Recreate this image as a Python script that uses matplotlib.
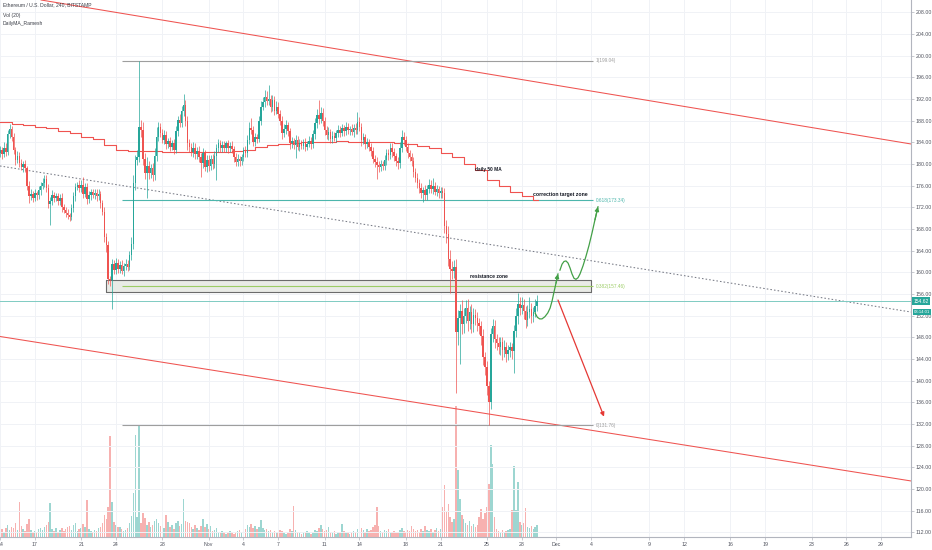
import numpy as np
import pandas as pd
import matplotlib
matplotlib.use('Agg')
import matplotlib.pyplot as plt
import matplotlib.dates as mdates
import matplotlib.transforms as mtransforms

# ---- dados (candles de 4h, ETH/USD Bitstamp) ----
inicio = '2019-10-14 00:00'
primeira_abertura = 182.0

fechamentos = [
    182.5, 181.8, 183.0, 182.2, 185.5, 186.5,
    185.0, 182.5, 180.8, 181.5, 180.2, 179.5,
    180.0, 179.2, 176.0, 174.0, 174.5, 173.8,
    174.6, 174.2, 175.2, 176.0, 176.5, 177.3,
    175.5, 172.7, 173.2, 174.3, 173.8, 174.0,
    173.2, 173.8, 172.1, 171.5, 171.0, 170.5,
    170.3, 171.8, 174.0, 175.8, 176.1, 175.6,
    176.2, 174.5, 175.8, 173.5, 174.2, 174.8,
    174.3, 174.7, 174.0, 174.5, 172.8, 171.2,
    166.6, 165.0, 158.8, 158.6, 161.5, 160.5,
    161.8, 160.6, 161.4, 160.2, 161.2, 161.6,
    161.0, 163.2, 165.3, 176.4, 180.7, 181.3,
    186.9, 186.3, 181.0, 178.3, 179.6, 178.4,
    179.2, 177.9, 181.5, 185.0, 186.9, 185.7,
    184.5, 185.3, 183.6, 184.2, 183.2, 183.8,
    182.6, 186.0, 188.1, 187.6, 189.8, 190.9,
    188.0, 183.8, 183.2, 182.2, 183.0, 181.8,
    182.4, 181.3, 180.2, 182.0, 179.5, 180.8,
    179.6, 181.0, 180.0, 181.5, 183.0, 183.8,
    182.9, 183.5, 183.0, 183.8, 182.9, 183.4,
    182.8, 181.3, 180.4, 181.0, 180.6, 181.2,
    182.6, 182.0, 184.5, 186.6, 186.3, 184.1,
    185.0, 184.6, 188.0, 190.6, 191.5, 192.4,
    191.6, 192.0, 190.5, 191.8, 189.8, 190.6,
    189.3, 188.0, 185.7, 186.5, 187.2, 186.0,
    183.8, 184.2, 183.5, 184.4, 183.2, 183.9,
    183.4, 184.0, 183.2, 183.7, 184.3, 183.6,
    185.5, 187.5, 189.0, 188.3, 189.5, 188.0,
    186.3, 185.4, 185.9, 184.6, 185.2, 184.8,
    185.7, 186.3, 185.8, 186.6, 186.0, 186.9,
    186.2, 186.5, 185.9, 186.7, 186.3, 187.8,
    186.9, 184.4, 184.9, 183.6, 184.0, 183.2,
    182.4, 181.0, 180.4, 179.8, 179.5, 180.0,
    179.6, 180.8, 182.0, 181.6, 183.0, 182.2,
    181.4, 180.5, 180.1, 183.0, 185.0, 184.4,
    183.2, 182.0, 181.2, 180.6, 178.5, 177.4,
    176.5, 175.6, 174.6, 175.2, 174.2, 175.4,
    176.2, 175.4, 176.0, 174.9, 175.3, 174.6,
    175.0, 174.6, 168.5, 167.0, 162.5, 160.6,
    160.2, 161.0, 149.0, 151.5, 152.8, 150.4,
    152.0, 153.5, 151.0, 152.6, 150.5, 152.2,
    151.5, 150.6, 150.0, 148.2, 144.3, 142.5,
    139.0, 136.0, 148.6, 150.0, 147.6, 147.0,
    146.2, 147.1, 145.6, 146.3, 145.0, 145.6,
    146.2, 145.4, 149.2, 152.0, 154.2, 153.4,
    154.0, 152.8, 151.2, 152.6, 153.2, 152.0,
    152.6, 153.8, 154.62,
]

# pavio superior / inferior (em USD, a partir do corpo)
pavio_sup = [
    0.8, 0.6, 1.0, 0.9, 0.7, 0.9,
    0.5, 0.8, 0.6, 0.9, 0.7, 0.8,
    0.6, 0.7, 0.5, 0.8, 0.9, 0.6,
    0.7, 0.5, 0.8, 0.6, 0.9, 0.7,
    0.6, 0.8, 0.7, 0.9, 0.5, 0.6,
    0.7, 0.6, 0.8, 0.5, 0.6, 0.7,
    0.5, 0.9, 0.8, 0.7, 0.6, 0.9,
    0.8, 1.4, 0.6, 0.7, 0.8, 0.6,
    0.5, 0.7, 0.6, 0.8, 0.5, 0.6,
    0.9, 0.7, 0.8, 0.6, 1.0, 0.7,
    0.8, 0.6, 0.7, 0.9, 0.6, 0.8,
    0.7, 0.8, 1.2, 1.5, 1.0, 1.3,
    12.14, 1.2, 1.5, 1.0, 1.6, 0.9,
    0.8, 1.0, 1.4, 1.8, 0.9, 0.7,
    0.8, 0.9, 0.7, 0.6, 0.8, 0.7,
    0.9, 1.0, 0.8, 1.1, 0.9, 2.1,
    1.0, 0.9, 0.8, 0.7, 1.0, 0.8,
    0.7, 0.9, 0.8, 1.0, 0.6, 0.8,
    0.9, 0.7, 0.8, 0.9, 0.7, 0.8,
    0.6, 0.7, 0.8, 0.5, 0.7, 0.6,
    0.8, 0.6, 0.7, 0.8, 0.5, 0.7,
    0.6, 0.8, 0.9, 1.2, 1.9, 0.7,
    0.8, 0.6, 0.9, 1.0, 0.8, 1.2,
    1.1, 2.6, 0.8, 0.9, 0.7, 1.0,
    0.8, 0.7, 0.9, 0.8, 1.0, 0.6,
    0.7, 0.8, 0.6, 0.9, 0.7, 0.8,
    0.6, 0.7, 0.8, 0.6, 0.9, 0.7,
    0.8, 1.0, 1.2, 2.8, 1.0, 0.9,
    0.7, 0.8, 0.9, 0.6, 0.8, 0.7,
    0.6, 0.9, 0.7, 0.8, 0.6, 0.8,
    0.7, 0.6, 0.8, 0.7, 0.9, 1.8,
    0.8, 0.6, 0.9, 0.7, 0.8, 0.6,
    0.7, 0.8, 0.6, 0.9, 0.7, 0.8,
    0.6, 0.9, 0.8, 0.7, 0.9, 0.8,
    0.7, 0.6, 0.8, 1.0, 1.3, 0.9,
    0.8, 0.7, 0.6, 0.9, 0.7, 0.8,
    0.9, 0.7, 0.8, 0.6, 0.9, 0.8,
    1.0, 0.8, 1.4, 0.7, 0.9, 0.6,
    0.7, 0.8, 1.0, 1.2, 1.5, 1.7,
    1.4, 1.2, 1.5, 1.6, 1.4, 2.0,
    1.5, 1.4, 1.6, 1.2, 1.5, 1.3,
    1.0, 1.2, 0.9, 1.1, 1.3, 1.0,
    1.2, 1.0, 1.1, 1.3, 1.2, 1.0,
    1.1, 0.9, 1.0, 1.2, 0.8, 0.9,
    1.0, 0.8, 1.1, 1.5, 1.9, 1.2,
    1.4, 1.0, 0.9, 1.3, 2.3, 1.2,
    1.0, 1.3, 1.2,
]

pavio_inf = [
    0.7, 0.9, 0.6, 0.8, 0.6, 0.7,
    0.8, 0.7, 0.9, 0.6, 0.8, 0.7,
    0.9, 0.6, 0.8, 1.2, 0.7, 0.8,
    0.6, 0.8, 0.7, 0.9, 0.6, 0.8,
    0.7, 0.9, 4.0, 0.7, 0.8, 0.6,
    0.8, 0.7, 0.9, 0.6, 0.8, 0.7,
    0.9, 0.6, 0.7, 0.8, 0.6, 0.7,
    0.7, 0.8, 0.6, 0.9, 0.7, 0.8,
    0.6, 0.7, 0.8, 0.6, 0.9, 0.7,
    1.0, 1.2, 0.9, 1.1, 5.3, 0.8,
    0.9, 0.7, 0.8, 0.6, 0.8, 0.7,
    0.8, 0.6, 0.9, 1.0, 1.2, 0.9,
    1.0, 1.3, 1.2, 1.0, 4.6, 1.1,
    0.9, 1.0, 0.8, 0.9, 0.7, 0.8,
    0.7, 0.9, 0.8, 0.6, 0.8, 0.7,
    0.8, 0.6, 0.9, 0.7, 0.8, 0.9,
    1.0, 1.2, 0.9, 0.8, 1.0, 0.9,
    0.8, 1.0, 2.6, 0.9, 0.8, 1.0,
    0.9, 0.8, 1.0, 0.7, 4.5, 0.8,
    0.7, 0.6, 0.8, 0.7, 0.9, 0.6,
    0.8, 0.9, 0.7, 0.8, 1.0, 0.7,
    0.6, 0.8, 0.7, 0.9, 0.8, 0.7,
    0.8, 0.7, 0.6, 0.8, 0.7, 0.9,
    0.7, 0.8, 0.9, 0.7, 0.8, 0.6,
    0.9, 0.8, 1.0, 0.7, 0.9, 0.8,
    1.0, 0.9, 0.8, 2.4, 0.7, 0.8,
    0.7, 0.6, 0.8, 0.7, 0.6, 0.8,
    0.7, 0.9, 0.8, 1.0, 0.8, 0.9,
    1.0, 0.8, 0.9, 0.7, 0.8, 0.6,
    0.8, 0.7, 0.9, 0.6, 0.8, 0.7,
    0.7, 0.8, 0.6, 0.9, 0.7, 0.8,
    0.9, 1.0, 0.8, 0.9, 0.7, 0.8,
    0.9, 0.8, 1.0, 2.5, 0.9, 0.8,
    0.8, 0.7, 0.9, 0.8, 0.7, 0.9,
    0.8, 0.9, 1.0, 0.8, 0.7, 0.9,
    0.8, 0.9, 0.7, 1.0, 0.9, 0.8,
    0.9, 1.0, 0.8, 1.6, 0.9, 0.8,
    0.7, 0.8, 0.9, 0.7, 0.8, 0.9,
    0.8, 0.9, 1.2, 1.5, 1.4, 4.5,
    1.5, 1.2, 11.2, 2.5, 8.5, 1.8,
    1.6, 1.4, 1.8, 1.5, 1.7, 1.6,
    1.2, 1.5, 1.3, 1.6, 1.4, 1.5,
    1.7, 4.24, 1.2, 1.4, 1.6, 1.3,
    1.2, 1.4, 1.8, 1.3, 1.5, 1.2,
    1.3, 1.4, 4.0, 1.2, 1.5, 1.3,
    1.1, 1.4, 1.5, 1.2, 1.0, 1.3,
    1.1, 0.9, 1.0,
]

# volume (milhares de ETH, aproximado)
volume = [
    6, 8, 5, 9, 12, 7,
    10, 9, 14, 7, 35, 11,
    8, 6, 13, 18, 7, 5,
    6, 4, 8, 9, 7, 10,
    12, 15, 34, 8, 6, 9,
    5, 7, 9, 6, 8, 10,
    11, 7, 12, 14, 6, 8,
    9, 13, 10, 37, 8, 6,
    5, 7, 6, 9, 10, 14,
    22, 18, 30, 101, 35, 15,
    12, 10, 10, 8, 6, 7,
    9, 14, 21, 44, 102, 20,
    112, 14, 24, 19, 12, 15,
    10, 12, 16, 18, 14, 11,
    13, 9, 22, 15, 10, 12,
    8, 14, 16, 11, 13, 38,
    16, 15, 14, 10, 8, 12,
    9, 7, 11, 18, 10, 13,
    8, 11, 6, 7, 9, 5,
    4, 6, 5, 3, 4, 6,
    5, 3, 4, 6, 7, 5,
    6, 8, 12, 10, 13, 9,
    11, 8, 10, 17, 9, 7,
    8, 6, 7, 5, 6, 4,
    5, 7, 6, 4, 3, 5,
    8, 6, 31, 7, 5, 4,
    3, 5, 4, 6, 4, 3,
    5, 7, 6, 9, 12, 8,
    6, 7, 10, 5, 4, 6,
    3, 5, 4, 13, 6, 4,
    5, 3, 4, 6, 5, 8,
    6, 9, 7, 5, 8, 6,
    7, 10, 12, 30, 11, 6,
    5, 7, 6, 8, 4, 5,
    6, 4, 5, 7, 9, 6,
    5, 7, 6, 11, 8, 6,
    7, 5, 8, 6, 11, 7,
    6, 8, 5, 7, 9, 6,
    8, 30, 52, 25, 33, 20,
    15, 18, 131, 67, 38, 22,
    18, 14, 12, 16, 11, 13,
    10, 12, 20, 28, 18, 24,
    30, 53, 92, 73, 20, 8,
    6, 5, 7, 5, 6, 7,
    8, 27, 71, 27, 55, 15,
    12, 14, 29, 10, 9, 11,
    8, 10, 12,
]

# media movel diaria de 50 (um valor por dia)
mm50_diaria = [
    187.8, 187.4, 187.2, 186.9, 186.6, 186.0, 185.7, 185.0, 184.7, 183.5,
    182.6, 182.4, 182.4, 182.4, 182.3, 182.3, 182.2, 182.2, 182.3, 182.3,
    182.4, 182.6, 183.1, 183.5, 183.7, 183.8, 184.0, 184.1, 184.1, 184.2,
    184.1, 184.1, 184.0, 184.0, 183.9, 183.7, 183.3, 182.9, 182.0, 181.3,
    180.0, 178.8, 177.0, 175.9, 174.8, 174.1, 173.4,
]

# retração de Fibonacci
fib_niveis = [199.04, 173.34, 157.46, 131.76]
fib_rotulos = ['1(199.04)', '0.618(173.34)', '0.382(157.46)', '0(131.76)']
fib_cores = ['#9e9e9e', '#4db6ac', '#9ccc65', '#9e9e9e']
fib_dias = [10.52, 51.15]

# zona de resistencia
zona_dias = [9.14, 50.98]
zona_precos = [156.42, 158.58]

# linhas de tendencia (dia, preco)
canal_sup = [(6.0, 209.4), (78.58, 183.69)]
canal_inf = [(0.0, 148.15), (78.58, 121.48)]
tendencia = [(0.0, 179.63), (78.58, 152.67)]

# trajetoria verde (cenario de alta)
verde1_dias = [46.15, 46.35, 46.55, 46.75, 47.0, 47.25, 47.45, 47.62, 47.79, 47.96, 48.13]
verde1_precos = [152.5, 151.7, 151.4, 151.4, 151.8, 152.5, 153.4, 154.7, 156.4, 158.0, 159.7]
verde2_dias = [48.30, 48.48, 48.65, 48.82, 49.0, 49.17, 49.34, 49.51, 49.68, 49.86,
               50.03, 50.29, 50.55, 50.81, 51.07, 51.32, 51.58]
verde2_precos = [160.4, 161.5, 162.0, 162.1, 161.7, 160.8, 159.7, 158.9, 158.7, 159.0,
                 159.7, 161.2, 163.0, 165.0, 167.3, 169.7, 172.1]
# seta vermelha (cenario de queda)
seta_verm = [(48.13, 154.88), (52.10, 133.35)]

preco_atual = 154.62

marcas_x = ['2019-10-14', '2019-10-17', '2019-10-21', '2019-10-24', '2019-10-28',
            '2019-11-01', '2019-11-04', '2019-11-07', '2019-11-11', '2019-11-14',
            '2019-11-18', '2019-11-21', '2019-11-25', '2019-11-28', '2019-12-01',
            '2019-12-04', '2019-12-09', '2019-12-12', '2019-12-16', '2019-12-19',
            '2019-12-23', '2019-12-26', '2019-12-29']
rotulos_x = ['14', '17', '21', '24', '28', 'Nov', '4', '7', '11', '14', '18', '21',
             '25', '28', 'Dec', '4', '9', '12', '16', '19', '23', '26', '29']

VERDE = '#26a69a'
VERMELHO = '#ef5350'
fonte = ['Liberation Sans', 'DejaVu Sans']
plt.rcParams['font.family'] = fonte

# ---- preparacao ----
c = np.array(fechamentos)
o = np.r_[primeira_abertura, c[:-1]]
h = np.maximum(o, c) + np.array(pavio_sup)
l = np.minimum(o, c) - np.array(pavio_inf)
tempos = pd.date_range(inicio, periods=len(c), freq='4h')
x = mdates.date2num(tempos)
base = mdates.date2num(pd.Timestamp(inicio))
alta = c >= o
cores = np.where(alta, VERDE, VERMELHO)

def dia(d):
    return base + d

fig = plt.figure(figsize=(9.32, 5.5), dpi=100)
ax = fig.add_axes([0, 13.3 / 550, 911 / 932, 536.7 / 550])
vax = ax.twinx()
ax.set_zorder(2)
vax.set_zorder(1)
ax.patch.set_visible(False)
vax.patch.set_facecolor('white')

# volume
vax.bar(x, volume, width=0.13, color=cores, alpha=0.45, linewidth=0)
vax.set_ylim(0, max(volume) * 4.1)
vax.set_yticks([])
for s in vax.spines.values():
    s.set_visible(False)

# grade
ax.set_axisbelow(True)
ax.grid(True, color='#f0f2f6', linewidth=0.7)

# linhas de tendencia e canal
ax.axline((dia(canal_sup[0][0]), canal_sup[0][1]), (dia(canal_sup[1][0]), canal_sup[1][1]),
          color=VERMELHO, linewidth=0.75, zorder=2)
ax.axline((dia(canal_inf[0][0]), canal_inf[0][1]), (dia(canal_inf[1][0]), canal_inf[1][1]),
          color=VERMELHO, linewidth=0.75, zorder=2)
ax.axline((dia(tendencia[0][0]), tendencia[0][1]), (dia(tendencia[1][0]), tendencia[1][1]),
          color='#787b86', linewidth=0.75, linestyle=(0, (1.5, 2)), zorder=2)

# linha do preco atual
ax.axhline(preco_atual, color='#7fcbc2', linewidth=0.7, zorder=2)

# zona de resistencia
ax.fill_between([dia(zona_dias[0]), dia(zona_dias[1])], zona_precos[0], zona_precos[1],
                facecolor='#e9ebe6', edgecolor='#6b6b6b', linewidth=0.8, zorder=2)

# fibonacci
for nivel, rot, cor in zip(fib_niveis, fib_rotulos, fib_cores):
    ax.hlines(nivel, dia(fib_dias[0]), dia(fib_dias[1]), colors=cor, linewidth=0.8, zorder=2)
    ax.text(dia(fib_dias[1]) + 0.25, nivel, rot, color=cor, fontsize=3.4, va='center',
            ha='left', zorder=5)

# media movel diaria (degraus)
dias_mm = [dia(i) for i in range(len(mm50_diaria))] + [x[-1] + 0.1]
ax.step(dias_mm, mm50_diaria + [mm50_diaria[-1]], where='post', color=VERMELHO,
        linewidth=0.8, zorder=3)

# candles
ax.vlines(x, l, h, colors=cores, linewidth=0.5, zorder=4)
corpo = np.maximum(np.abs(c - o), 0.15)
ax.bar(x, corpo, bottom=np.minimum(o, c), width=0.13, color=cores, linewidth=0, zorder=4)

# trajetorias desenhadas
verde_escuro = '#43a047'
ax.plot([dia(d) for d in verde1_dias], verde1_precos, color=verde_escuro, linewidth=0.9, zorder=5)
ax.annotate('', xy=(dia(verde1_dias[-1]), verde1_precos[-1]),
            xytext=(dia(verde1_dias[-2]), verde1_precos[-2]),
            arrowprops=dict(arrowstyle='-|>', color=verde_escuro, lw=0.9, mutation_scale=6,
                            shrinkA=0, shrinkB=0), zorder=5)
ax.plot([dia(d) for d in verde2_dias], verde2_precos, color=verde_escuro, linewidth=0.9, zorder=5)
ax.annotate('', xy=(dia(verde2_dias[-1]), verde2_precos[-1]),
            xytext=(dia(verde2_dias[-2]), verde2_precos[-2]),
            arrowprops=dict(arrowstyle='-|>', color=verde_escuro, lw=0.9, mutation_scale=6,
                            shrinkA=0, shrinkB=0), zorder=5)
ax.annotate('', xy=(dia(seta_verm[1][0]), seta_verm[1][1]),
            xytext=(dia(seta_verm[0][0]), seta_verm[0][1]),
            arrowprops=dict(arrowstyle='-|>', color='#e53935', lw=0.9, mutation_scale=6,
                            shrinkA=0, shrinkB=0), zorder=5)

# textos
ax.text(dia(40.97), 179.0, 'daily 50 MA', fontsize=3.4, fontweight='bold', color='#131722',
        va='center', ha='left', zorder=6)
ax.text(dia(45.98), 174.3, 'correction target zone', fontsize=3.7, fontweight='bold',
        color='#131722', va='center', ha='left', zorder=6)
ax.text(dia(40.54), 159.3, 'resistance zone', fontsize=3.6, fontweight='bold',
        color='#131722', va='center', ha='left', zorder=6)

# eixos
ax.set_xlim(base, base + 78.58)
ax.set_ylim(111.19, 210.27)
ax.yaxis.tick_right()
ax.set_yticks(np.arange(112, 209, 4))
ax.set_yticklabels([f'{v:.2f}' for v in np.arange(112, 209, 4)])
ax.set_xticks(mdates.date2num(pd.to_datetime(marcas_x)))
ax.set_xticklabels(rotulos_x)
ax.tick_params(axis='both', length=2, width=0.5, color='#b2b5be', labelsize=3.8,
               labelcolor='#50535e', pad=1.5)
for lado in ['top', 'left']:
    ax.spines[lado].set_visible(False)
for lado in ['right', 'bottom']:
    ax.spines[lado].set_color('#b2b5be')
    ax.spines[lado].set_linewidth(0.8)

# etiquetas do preco atual
trans = mtransforms.blended_transform_factory(ax.transAxes, ax.transData)
ax.text(1.003, preco_atual, f'{preco_atual:.2f}', transform=trans, fontsize=3.6, color='white',
        va='center', ha='left', clip_on=False, zorder=7,
        bbox=dict(boxstyle='square,pad=0.3', fc=VERDE, ec='none'))
ax.text(1.003, 152.64, '03:14:01', transform=trans, fontsize=3.1, color='white',
        va='center', ha='left', clip_on=False, zorder=7,
        bbox=dict(boxstyle='square,pad=0.25', fc=VERDE, ec='none'))

# legenda superior esquerda
fig.text(3 / 932, 1 - 5 / 550, 'Ethereum / U.S. Dollar, 240, BITSTAMP', fontsize=3.6,
         color='#3b3e47', va='center', ha='left')
fig.text(3 / 932, 1 - 15 / 550, 'Vol (20)', fontsize=3.6, color='#3b3e47', va='center', ha='left')
fig.text(3 / 932, 1 - 24 / 550, 'DailyMA_Ramesh', fontsize=3.6, color='#3b3e47', va='center',
         ha='left')

fig.savefig('out.png', dpi=100, facecolor='white')
